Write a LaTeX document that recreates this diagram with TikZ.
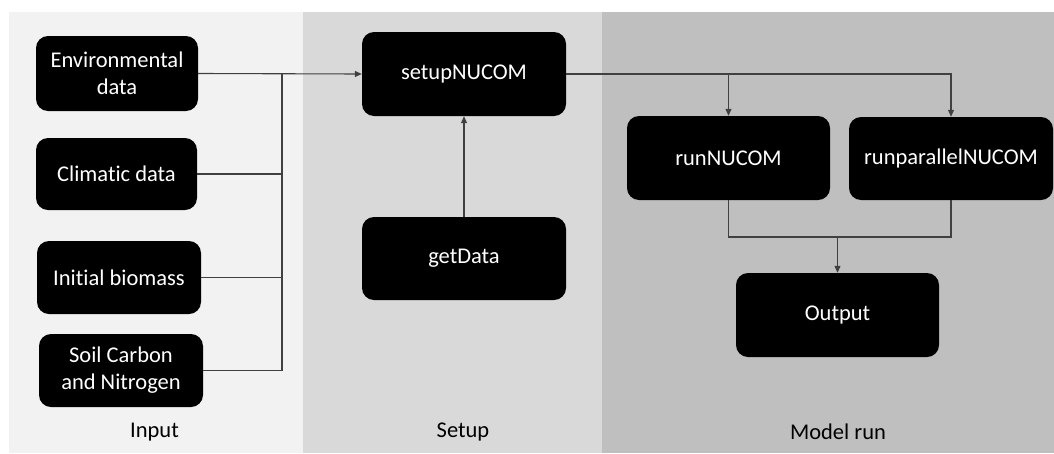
\documentclass[tikz,border=0pt]{standalone}
\usepackage{fontspec}
\setmainfont{Carlito}[Ligatures = NoCommon]
\usetikzlibrary{arrows.meta}
\definecolor{inputgray}{HTML}{F2F2F2}
\definecolor{setupgray}{HTML}{D9D9D9}
\definecolor{rungray}{HTML}{BFBFBF}
\definecolor{linegray}{HTML}{404040}
\tikzset{
	block/.style = {fill = black, text = white, rounded corners = 12pt, align = center, inner sep = 0pt},
	link/.style = {draw = linegray, line width = 1.1pt},
	tip/.style = {-{Triangle[length = 7pt, width = 6pt]}}
}
\begin{document}
\begin{tikzpicture} [x = 1pt, y = -1pt, font = \fontsize{22.5}{27}\selectfont]
	\useasboundingbox (0,0) rectangle (1054,453);
	\fill [white] (0,0) rectangle (1054,453);
	\fill [inputgray] (9,12) rectangle (303,453);
	\fill [setupgray] (303,12) rectangle (602,453);
	\fill [rungray] (602,12) rectangle (1054,453);
	\node [block, minimum width = 162pt, minimum height = 75pt] (env) at (117,73.5) {Environmental\\data};
	\node [block, minimum width = 161pt, minimum height = 72pt] (clim) at (116.5,174) {Climatic data};
	\node [block, minimum width = 164pt, minimum height = 73pt] (init) at (119,277.5) {Initial biomass};
	\node [block, minimum width = 164pt, minimum height = 73pt] (soil) at (121,370.5) {Soil Carbon\\and Nitrogen};
	\node [block, minimum width = 204pt, minimum height = 84pt] (setup) at (464,74) {setupNUCOM};
	\node [block, minimum width = 204pt, minimum height = 83pt] (getdata) at (464,258.5) {getData};
	\node [block, minimum width = 203pt, minimum height = 84pt] (run) at (728.5,158) {runNUCOM};
	\node [block, minimum width = 204pt, minimum height = 83pt] (runpar) at (951,158.5) {runparallelNUCOM};
	\node [block, minimum width = 203pt, minimum height = 84pt] (output) at (837.5,315) {Output};
	\node (inputlbl) at (154.5,432) {Input};
	\node (setuplbl) at (463,432) {Setup};
	\node (runlbl) at (838,432) {Model run};
	\coordinate (bus) at (282,74);
	\coordinate (join) at (837.5,237);
	\draw [link, tip] (env.east) -- (setup.west);
	\draw [link] (bus) -- (bus |- soil.east);
	\draw [link] (clim.east) -- (clim.east -| bus);
	\draw [link] (init.east) -- (init.east -| bus);
	\draw [link] (soil.east) -- (soil.east -| bus);
	\draw [link, tip] (getdata.north) -- (setup.south);
	\draw [link, tip] (setup.east) -- (runpar.north |- setup.east) -- (runpar.north);
	\draw [link, tip] (run.north |- setup.east) -- (run.north);
	\draw [link] (run.south) -- (run.south |- join) -- (runpar.south |- join) -- (runpar.south);
	\draw [link, tip] (join) -- (output.north);
\end{tikzpicture}
\end{document}
